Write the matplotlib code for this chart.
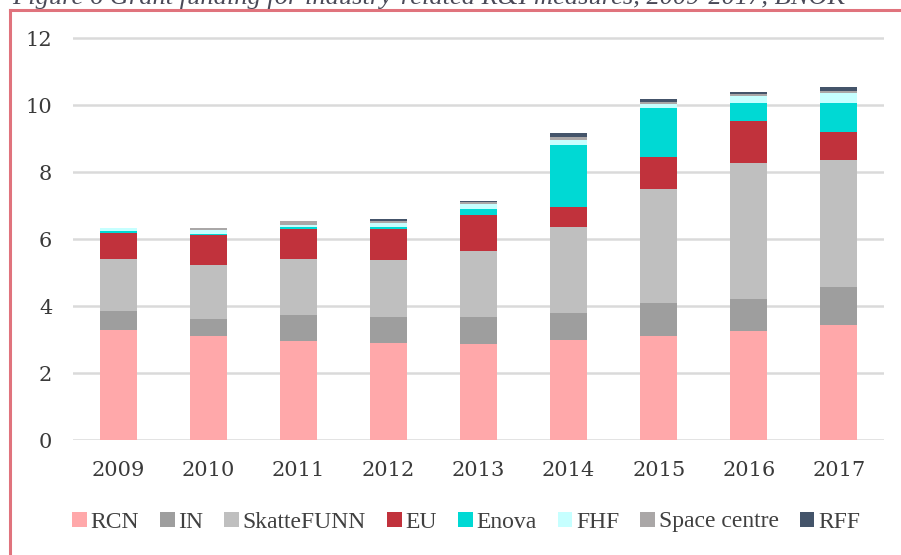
import matplotlib
matplotlib.use("Agg")
import matplotlib.pyplot as plt
from matplotlib.lines import Line2D
from matplotlib.font_manager import FontProperties
import numpy as np

years = ['2009', '2010', '2011', '2012', '2013', '2014', '2015', '2016', '2017']
rcn = [3.28, 3.10, 2.96, 2.89, 2.86, 2.99, 3.11, 3.25, 3.43]
innovation_norway = [0.57, 0.51, 0.76, 0.77, 0.80, 0.79, 0.97, 0.96, 1.13]
skattefunn = [1.54, 1.60, 1.67, 1.71, 1.99, 2.57, 3.40, 4.05, 3.80]
eu = [0.80, 0.92, 0.90, 0.94, 1.07, 0.60, 0.96, 1.27, 0.85]
enova = [0.05, 0.03, 0.06, 0.06, 0.17, 1.85, 1.47, 0.52, 0.86]
fhf = [0.08, 0.10, 0.08, 0.10, 0.15, 0.16, 0.12, 0.22, 0.30]
space_centre = [0.00, 0.06, 0.10, 0.08, 0.06, 0.08, 0.06, 0.06, 0.04]
rff = [0.00, 0.00, 0.00, 0.04, 0.03, 0.12, 0.08, 0.06, 0.14]

series_names = ['RCN', 'IN', 'SkatteFUNN', 'EU', 'Enova', 'FHF', 'Space centre', 'RFF']
series_values = [rcn, innovation_norway, skattefunn, eu, enova, fhf, space_centre, rff]
series_colors = ['#FFA8AA', '#9E9E9E', '#BFBFBF', '#C1323C', '#00D9D4', '#C6FFFF', '#AAA7A7', '#44546A']

title = 'Figure 6 Grant funding for industry-related R&I measures, 2009-2017, BNOK'

W, H = 901, 555
fig = plt.figure(figsize=(W / 100, H / 100), dpi=100)
fig.patch.set_facecolor('white')

ax = fig.add_axes([73 / W, 1 - 440 / H, (884 - 73) / W, (440 - 28) / H])
x = np.arange(len(years))
bottom = np.zeros(len(years))
for name, vals, col in zip(series_names, series_values, series_colors):
    vals = np.array(vals)
    ax.bar(x, vals, 0.41, bottom=bottom, color=col, label=name, zorder=3, linewidth=0)
    bottom += vals

ax.set_xlim(-0.5, len(years) - 0.5)
ax.set_ylim(0, 12.3)
ax.set_yticks([0, 2, 4, 6, 8, 10, 12])
ax.set_xticks(x)
ax.set_xticklabels(years)
ax.yaxis.grid(True, color='#DADADA', linewidth=1.8, zorder=0)
ax.set_axisbelow(True)
for s in ax.spines.values():
    s.set_visible(False)
ax.tick_params(axis='both', length=0, labelcolor='#3A3A3A')
ax.tick_params(axis='y', pad=15)
ax.tick_params(axis='x', pad=15)
for lab in ax.get_xticklabels() + ax.get_yticklabels():
    lab.set_fontfamily('DejaVu Serif')
    lab.set_fontsize(15)

leg = ax.legend(loc='center', bbox_to_anchor=(466 / W, 1 - 522 / H), bbox_transform=fig.transFigure,
                ncol=8, frameon=False, prop=FontProperties(family='Liberation Serif', size=17),
                handlelength=0.62, handleheight=0.62, handletextpad=0.15, columnspacing=0.9,
                borderaxespad=0, borderpad=0, labelcolor='#404040')

# frame border lines
fig.add_artist(Line2D([9.5 / W, 9.5 / W], [0, 1 - 9.5 / H], transform=fig.transFigure,
                      color='#E0737D', linewidth=2.2))
fig.add_artist(Line2D([9.5 / W, 1], [1 - 9.5 / H, 1 - 9.5 / H], transform=fig.transFigure,
                      color='#E0737D', linewidth=2.2))

t = fig.text(12 / W, 1 - 4 / H, title, fontstyle='italic', family='Liberation Serif',
             fontsize=20, va='baseline', ha='left', color='#4A4A58')
fig.canvas.draw()
w = t.get_window_extent().width
t.set_fontsize(20 * 832 / w)

fig.savefig('out.png', dpi=100)
